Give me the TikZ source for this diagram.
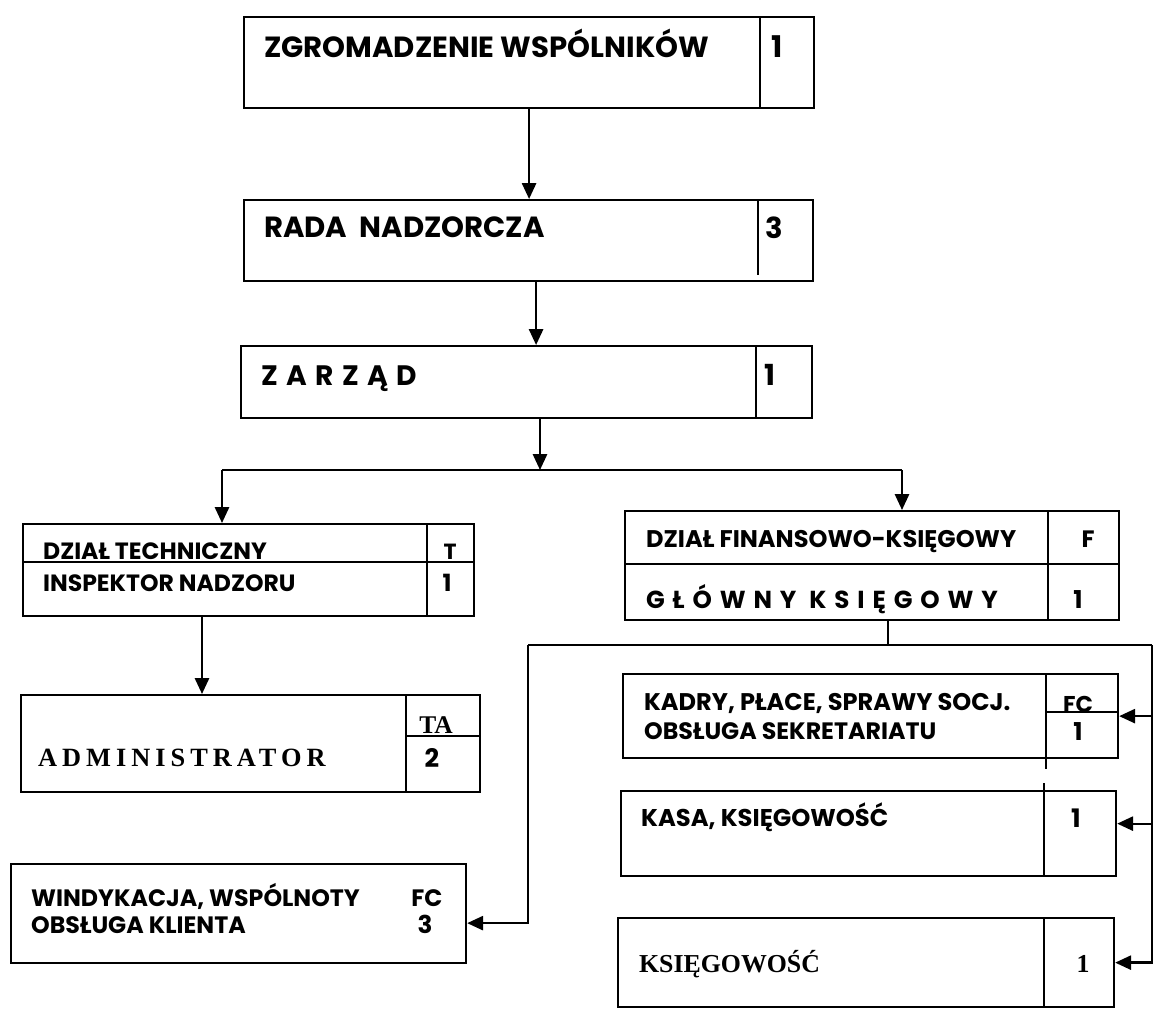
\documentclass[tikz,border=0pt]{standalone}
\usepackage{fontspec}
\newfontfamily\gothic{Poppins}
\newfontfamily\gothicsp{Poppins}[LetterSpace=30]
\newfontfamily\gothicwide{Poppins}[LetterSpace=32]
\newfontfamily\romanb{Liberation Serif}
\newfontfamily\romanbsp{Liberation Serif}[LetterSpace=19]
\usetikzlibrary{arrows.meta}
\newcommand{\fsz}[1]{\fontsize{#1}{#1}\selectfont}

\begin{document}
\begin{tikzpicture}[x=0.02cm, y=-0.02cm, line width=1.3pt,
    box/.style={draw, anchor=north west, inner sep=0pt},
    lbl/.style={anchor=base west, inner sep=0pt, font=\gothic\bfseries},
    num/.style={anchor=base, inner sep=0pt, font=\gothic\bfseries\fsz{15}},
    arr/.style={-{Triangle[width=8pt,length=9pt]}}]
    \useasboundingbox (0,0) rectangle (1154,1011);

    % boxes
    \node[box, minimum width=11.40cm, minimum height=1.82cm] (zgrom) at (243,16) {};
    \node[box, minimum width=11.38cm, minimum height=1.62cm] (rada) at (243,199) {};
    \node[box, minimum width=11.42cm, minimum height=1.44cm] (zarzad) at (240,345) {};
    \node[box, minimum width=9.02cm, minimum height=1.84cm] (dtech) at (22,523) {};
    \node[box, minimum width=9.18cm, minimum height=1.94cm] (admin) at (20,694) {};
    \node[box, minimum width=9.88cm, minimum height=2.18cm] (dfin) at (624,510) {};
    \node[box, minimum width=9.90cm, minimum height=1.68cm] (kadry) at (622,673) {};
    \node[box, minimum width=9.90cm, minimum height=1.70cm] (kasa) at (620,790) {};
    \node[box, minimum width=9.92cm, minimum height=1.78cm] (ksieg) at (617,917) {};
    \node[box, minimum width=9.10cm, minimum height=1.98cm] (windyk) at (10,863) {};

    % side cells
    \draw ([xshift=-1.10cm]zgrom.north east) -- ([xshift=-1.10cm]zgrom.south east);
    \draw ([xshift=-1.12cm]rada.north east) -- ([xshift=-1.12cm,yshift=0.14cm]rada.south east);
    \draw ([xshift=-1.14cm]zarzad.north east) -- ([xshift=-1.14cm]zarzad.south east);
    \draw ([xshift=-0.96cm]dtech.north east) -- ([xshift=-0.96cm]dtech.south east);
    \draw ([yshift=-0.78cm]dtech.north west) -- ([yshift=-0.78cm]dtech.north east);
    \draw ([xshift=-1.50cm]admin.north east) -- ([xshift=-1.50cm]admin.south east);
    \draw ([xshift=-1.50cm,yshift=-0.84cm]admin.north east) -- ([yshift=-0.84cm]admin.north east);
    \draw ([xshift=-1.44cm]dfin.north east) -- ([xshift=-1.44cm]dfin.south east);
    \draw ([yshift=-1.08cm]dfin.north west) -- ([yshift=-1.08cm]dfin.north east);
    \draw ([xshift=-1.46cm]kadry.north east) -- ([xshift=-1.46cm,yshift=-0.2cm]kadry.south east);
    \draw ([xshift=-1.46cm,yshift=-0.78cm]kadry.north east) -- ([yshift=-0.78cm]kadry.north east);
    \draw ([xshift=-1.46cm,yshift=0.14cm]kasa.north east) -- ([xshift=-1.46cm]kasa.south east);
    \draw ([xshift=-1.42cm]ksieg.north east) -- ([xshift=-1.42cm]ksieg.south east);

    % texts
    \node[lbl, font=\gothic\bfseries\fsz{16.6}] (zgromT) at (263,57) {ZGROMADZENIE WSPÓLNIKÓW};
    \node[num, font=\gothic\bfseries\fsz{17}] (zgromN) at (777,57) {1};
    \node[lbl, font=\gothic\bfseries\fsz{16.6}] (radaT) at (263,237) {RADA~~NADZORCZA};
    \node[num, font=\gothic\bfseries\fsz{16.5}] (radaN) at (774,238) {3};
    \node[lbl, font=\gothicsp\bfseries\fsz{16}] (zarzadT) at (260,385) {ZARZĄD};
    \node[num, font=\gothic\bfseries\fsz{16.5}] (zarzadN) at (770,385) {1};
    \node[lbl, font=\gothic\bfseries\fsz{13.4}] (dtechT) at (42,559) {DZIAŁ TECHNICZNY};
    \node[num, font=\gothic\bfseries\fsz{12.5}] (dtechL) at (450,559) {T};
    \node[lbl, font=\gothic\bfseries\fsz{13.4}] (dtechI) at (42,591) {INSPEKTOR NADZORU};
    \node[num, font=\gothic\bfseries\fsz{13.5}] (dtechN) at (447,591) {1};
    \node[lbl, font=\romanbsp\bfseries\fsz{15}] (adminT) at (37,766) {ADMINISTRATOR};
    \node[num, font=\romanb\bfseries\fsz{14.5}] (adminL) at (436,733) {TA};
    \node[num, font=\gothic\bfseries\fsz{14.5}] (adminN) at (432,767) {2};
    \node[lbl, font=\gothic\bfseries\fsz{13.7}] (dfinT) at (645,547) {DZIAŁ FINANSOWO-KSIĘGOWY};
    \node[num, font=\gothic\bfseries\fsz{13.5}] (dfinL) at (1088,547) {F};
    \node[lbl, font=\gothicwide\bfseries\fsz{14}] (dfinG) at (645,608) {GŁÓWNY KSIĘGOWY};
    \node[num, font=\gothic\bfseries\fsz{14}] (dfinN) at (1078,608) {1};
    \node[lbl, font=\gothic\bfseries\fsz{13.7}] (kadryT) at (643,710) {KADRY, PŁACE, SPRAWY SOCJ.};
    \node[lbl, font=\gothic\bfseries\fsz{13.5}] (kadryS) at (643,739) {OBSŁUGA SEKRETARIATU};
    \node[num, font=\gothic\bfseries\fsz{13}] (kadryL) at (1078,712) {FC};
    \node[num, font=\gothic\bfseries\fsz{14}] (kadryN) at (1078,740) {1};
    \node[lbl, font=\gothic\bfseries\fsz{13.8}] (kasaT) at (640,826) {KASA, KSIĘGOWOŚĆ};
    \node[num, font=\gothic\bfseries\fsz{14.5}] (kasaN) at (1076,827) {1};
    \node[lbl, font=\romanb\bfseries\fsz{14.7}] (ksiegT) at (638,972) {KSIĘGOWOŚĆ};
    \node[num, font=\romanb\bfseries\fsz{14.7}] (ksiegN) at (1083,972) {1};
    \node[lbl, font=\gothic\bfseries\fsz{13.5}] (windykT) at (30,906) {WINDYKACJA, WSPÓLNOTY};
    \node[lbl, font=\gothic\bfseries\fsz{13.5}] (windykS) at (30,933) {OBSŁUGA KLIENTA};
    \node[num, font=\gothic\bfseries\fsz{13.5}] (windykL) at (427,906) {FC};
    \node[num, font=\gothic\bfseries\fsz{14}] (windykN) at (425,933) {3};

    % connectors
    \coordinate (split) at (540,470);
    \coordinate (lj) at (222,470);
    \coordinate (rj) at (902,470);
    \coordinate (t1) at (202,0);
    \coordinate (f1) at (888,645);
    \coordinate (bl) at (528,645);
    \coordinate (br) at (1152,645);
    \coordinate (windykIn) at ([yshift=-0.19cm]windyk.east);
    \coordinate (kasaIn) at ([yshift=0.2cm]kasa.east);
    \draw[arr] (zgrom.south) -- (zgrom.south |- rada.north);
    \draw[arr] ([xshift=0.15cm]rada.south) coordinate (r1) -- (r1 |- zarzad.north);
    \draw[arr] (zarzad.south -| split) -- (split);
    \draw (lj) -- (rj);
    \draw[arr] (lj) -- (lj |- dtech.north);
    \draw[arr] (rj) -- (rj |- dfin.north);
    \draw[arr] (dtech.south -| t1) -- (admin.north -| t1);
    \draw (dfin.south -| f1) -- (f1);
    \draw (bl) -- (br);
    \draw[arr] (bl) |- (windykIn);
    \draw[arr] (br) |- (ksieg.east);
    \draw[arr] (br |- kadry.east) -- (kadry.east);
    \draw[arr] (br |- kasaIn) -- (kasaIn);
\end{tikzpicture}
\end{document}
